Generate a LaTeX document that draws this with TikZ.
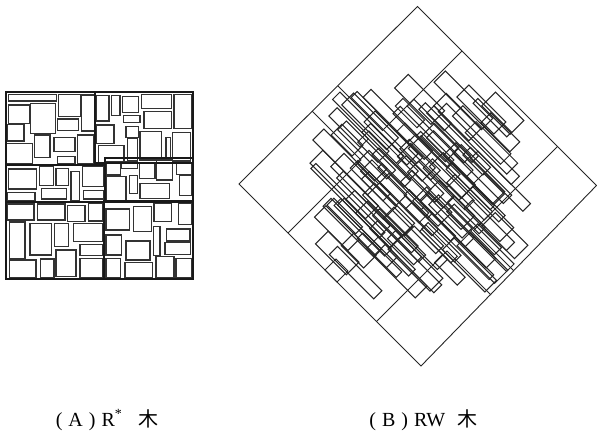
\documentclass[tikz,border=0pt]{standalone}
\usepackage{fontspec}
\setmainfont{Liberation Serif}
\newfontfamily\cjk{Noto Sans CJK SC}
\begin{document}
\begin{tikzpicture}[x=1pt,y=-1pt,
  datarect/.style={draw=black!80,line width=1.1pt},
  childrect/.style={draw=black!90,line width=1.7pt},
  rwrect/.style={draw=black!85,line width=1.05pt},
  framepath/.style={draw=black!85,line width=0.9pt},
  lab/.style={anchor=base west,inner sep=0pt,font=\fontsize{20}{24}\selectfont}]
\useasboundingbox (0,0) rectangle (597,438);
% ---------- (A) R* tree ----------
\foreach \xa/\ya/\xb/\yb in {
8.3/94.3/56.7/101, 8.3/105/29.3/123.3, 30.7/103.3/55.7/133.3, 58.3/94.3/81/116.7,
81.7/95/94.3/131, 57.3/119/78.3/130.7, 7.3/124.3/24/141, 34.3/135/50/157.7,
54/137.3/75/151.7, 77.3/135/93.5/164, 6.7/143.3/32.7/164, 57.3/156.7/75/164,
96.7/95.7/109/121, 111.7/95.7/120/115.7, 122.3/96.7/138.3/112.3, 141.7/94.3/171.7/108.3,
174/94.3/191.7/128.3, 123.3/115.7/140/122.3, 144/111.7/171.7/128.3, 96.7/125/114/143.3,
126/126.7/138.3/137.7, 140/131.7/161.7/160, 166/137.7/170.7/160, 172.7/132.3/190.7/161,
98.3/145.7/124/162.3, 127.3/138.3/137.3/161,
8.3/169/36.7/189, 39.3/166.7/53.3/185.7, 56/168.3/68.3/185.7, 71/171.7/79.3/200.5,
82.3/166.7/103.5/186.7, 7.3/192.3/35/200.3, 41.7/188.3/66.7/199, 83.3/190.7/103.3/199,
106.5/161.7/120.7/175, 121.7/161.7/137.3/168.3, 139.3/162.3/155/178.3, 156.7/160/172.7/180,
176.7/162.3/192/174.3, 106.7/176.7/126/200.5, 129.3/175.7/137.3/193.3, 140/183.3/169.3/198.3,
179.3/175.7/191.7/195.7,
7/204/34/220, 37.3/204/65/220, 67.3/205.7/85/221.7, 88.3/203.3/102.3/221,
9.3/222/25/258.3, 30/223.3/51.7/255, 54.3/223.3/68.3/246.7, 73.3/223.3/102.3/241.7,
80/244.3/103/255.7, 56/250/76/276.7, 9.3/260/36/278, 40.7/259/54/278,
80/258.3/103/277.7,
106/209/129.3/230, 133.3/206.7/151.7/231.7, 154/203/171.7/221.7, 178.3/203/191.7/224.3,
106/235/121.7/255, 126/241/150/260, 153.3/226.7/160/255.7, 166.7/229/190/241,
165/242.3/190.7/254.3, 106/258.3/120.7/278, 125/262.3/152.7/278, 156/256.7/174/278,
176/258.3/191.7/278}
  \draw[datarect] (\xa,\ya) rectangle (\xb,\yb);
\draw[childrect] (6,92) rectangle (193,279);
\draw[childrect] (6,92) rectangle (95,165);
\draw[childrect] (95,92) rectangle (193,163);
\draw[childrect] (6,165) rectangle (105,202);
\draw[childrect] (105,158) rectangle (193,202);
\draw[childrect] (6,202) rectangle (104,279);
\draw[childrect] (104,201) rectangle (193,279);
% ---------- (B) RW tree, drawn in rotated frame a=px+py, b=px-py ----------
\begin{scope}[x={(0.5pt,-0.5pt)},y={(0.5pt,0.5pt)}]
\pgfmathsetseed{5}
% first layer: staggered rows
\foreach \r in {0,...,13}{
  \foreach \c in {0,...,7}{
    \pgfmathsetmacro\ca{475+39*\c+19*mod(\r,2)+24*(rnd-0.5)}
    \pgfmathsetmacro\cb{85+23.5*\r+10*(rnd-0.5)}
    \pgfmathsetmacro\la{16+40*rnd}
    \pgfmathsetmacro\lb{6+8*rnd}
    \pgfmathsetmacro\aa{max(\ca-\la,432)}
    \pgfmathsetmacro\ab{min(\ca+\la,778)}
    \pgfmathsetmacro\ba{max(\cb-\lb,58)}
    \pgfmathsetmacro\bb{min(\cb+\lb,409)}
    \pgfmathtruncatemacro\ok{(\ca+\cb>663)*(\ca-\cb>197)*(\ca-\cb<547)*(\ca+\cb<1016)*(\ca<752)}
    \ifnum\ok=1
      \draw[rwrect] (\aa,\ba) -- (\ab,\ba) -- (\ab,\bb) -- (\aa,\bb) -- cycle;
    \fi
  }
}
% second layer: sparser, shifted, longer and thinner
\foreach \r in {0,...,12}{
  \foreach \c in {0,...,4}{
    \pgfmathsetmacro\ca{490+62*\c+31*mod(\r,2)+30*(rnd-0.5)}
    \pgfmathsetmacro\cb{97+23.5*\r+10*(rnd-0.5)}
    \pgfmathsetmacro\la{30+45*rnd}
    \pgfmathsetmacro\lb{4+6*rnd}
    \pgfmathsetmacro\aa{max(\ca-\la,432)}
    \pgfmathsetmacro\ab{min(\ca+\la,778)}
    \pgfmathsetmacro\ba{max(\cb-\lb,58)}
    \pgfmathsetmacro\bb{min(\cb+\lb,409)}
    \pgfmathtruncatemacro\ok{(\ca+\cb>690)*(\ca-\cb>225)*(\ca-\cb<520)*(\ca+\cb<990)*(\ca<745)}
    \ifnum\ok=1
      \draw[rwrect] (\aa,\ba) -- (\ab,\ba) -- (\ab,\bb) -- (\aa,\bb) -- cycle;
    \fi
  }
}
\draw[framepath] (423,55) -- (787,55) -- (782,411) -- (424,411) -- cycle;
\draw[framepath] (424,252) -- (513,252) -- (513,411);
\draw[framepath] (423,201) -- (521,201) -- (521,55);
\draw[framepath] (698,55) -- (698,196) -- (786,196);
\draw[framepath] (704,411) -- (704,243) -- (784,243);
\draw[rwrect] (595,55) -- (619,55) -- (619,77) -- (595,77) -- cycle;
\end{scope}
% ---------- labels ----------
\node[lab] (labA) at (55.6,426) {(\hspace{0.3em}A\hspace{0.3em})\hspace{0.3em}R\textsuperscript{*}\hspace{0.8em}{\cjk 木}};
\node[lab] (labB) at (369.2,426) {(\hspace{0.3em}B\hspace{0.3em})\hspace{0.3em}RW\hspace{0.6em}{\cjk 木}};
\end{tikzpicture}
\end{document}
